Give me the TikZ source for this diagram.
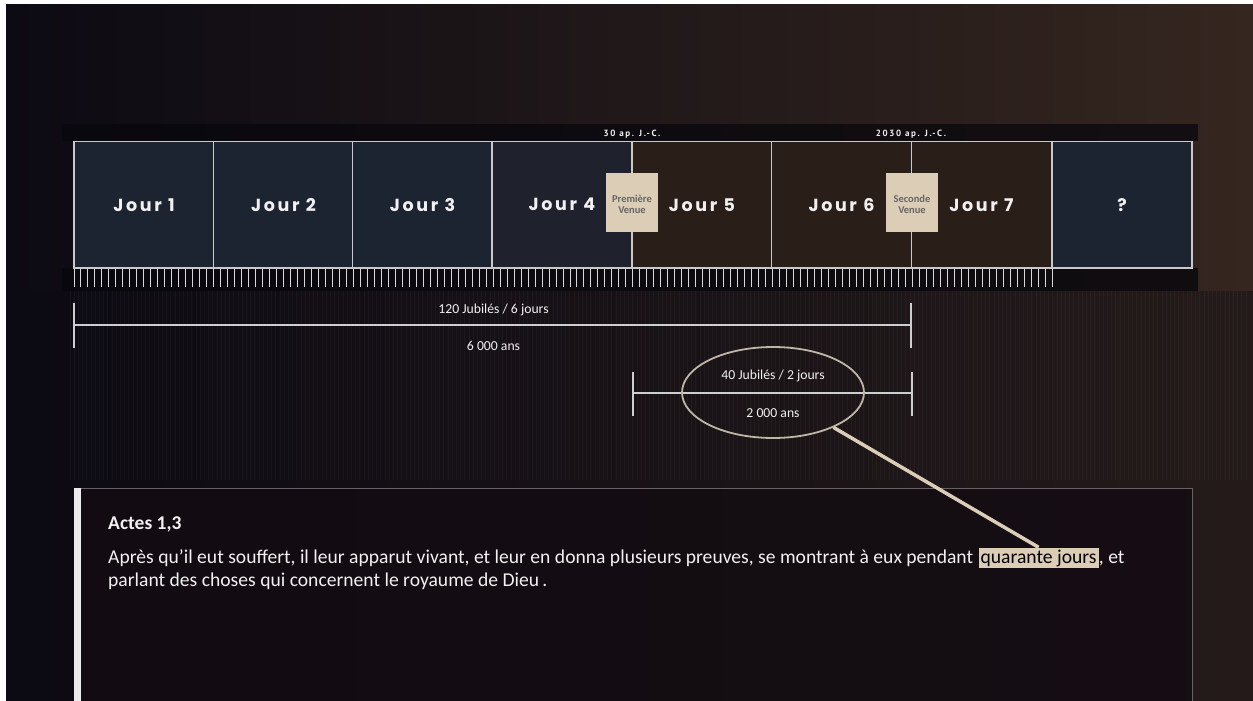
\documentclass[tikz,border=0pt]{standalone}
\usepackage{fontspec}
\setmainfont{Carlito}
\newfontfamily\dayfont{Poppins}[LetterSpace=15]
\newfontfamily\smallfont{PT Sans}[LetterSpace=18]
\usetikzlibrary{shapes.geometric}
\definecolor{bgL}{HTML}{0C0A13}
\definecolor{bgR}{HTML}{35261F}
\definecolor{blueday}{HTML}{1C2331}
\definecolor{brownday}{HTML}{2A1E19}
\definecolor{frame}{HTML}{C9C9CC}
\definecolor{beige}{HTML}{DCCDB6}
\definecolor{txt}{HTML}{F2F0F0}
\definecolor{panel}{HTML}{130C12}
\tikzset{
  daybox/.style={draw=frame, line width=1.6pt, minimum width=140pt, minimum height=126.5pt, inner sep=0pt,
     text=txt, font=\dayfont\bfseries\fontsize{17.5}{20}\selectfont},
  visitbox/.style={fill=beige, minimum width=52pt, minimum height=59pt, inner sep=1pt, align=center,
     text=black!60, font=\fontsize{10.5}{11}\selectfont\bfseries},
  hdr/.style={text=txt!85, font=\smallfont\bfseries\fontsize{9}{10}\selectfont, inner sep=0pt},
  span/.style={draw=frame!90, line width=2.6pt},
  spanlbl/.style={text=txt, font=\fontsize{13.7}{15}\selectfont, inner sep=0pt},
  body/.style={text=txt, font=\fontsize{19.6}{23}\selectfont, inner sep=0pt, anchor=base west},
}
\begin{document}
\begin{tikzpicture}[x=1pt,y=-1pt]
\useasboundingbox (0,0) rectangle (1253,701);
\fill[white] (0,0) rectangle (1253,701);
\shade[left color=bgL, right color=bgR] (6,5) rectangle (1253,701);
\fill[bgL, opacity=0.4] (6,291) rectangle (1253,701);
% faint vertical stripes
\foreach \i in {0,...,280} { \draw[white, opacity=0.035, line width=0.8pt] (70+4.2*\i,291) -- (70+4.2*\i,480); }
% header band
\fill[black!30!bgL, opacity=0.75] (62,124) rectangle (1198,141);
\node[hdr] (h1) at (632,134) {30 ap. J.-C.};
\node[hdr] (h2) at (911,134) {2030 ap. J.-C.};
% tick band
\fill[black!30!bgL, opacity=0.8] (62,268) rectangle (1198,291);
\foreach \i in {0,...,140} { \draw[frame!70, line width=1pt] (74+6.986*\i,269) -- (74+6.986*\i,287); }
% day boxes
\node[daybox, fill=blueday] (d1) at (144,204.75) {Jour 1};
\node[daybox, fill=blueday] (d2) at (283.5,204.75) {Jour 2};
\node[daybox, fill=blueday] (d3) at (422.5,204.75) {Jour 3};
\node[daybox, fill=blueday!80!brownday] (d4) at (562,204.75) {Jour 4};
\node[daybox, fill=brownday] (d5) at (702,204.75) {Jour 5};
\node[daybox, fill=brownday] (d6) at (841.5,204.75) {Jour 6};
\node[daybox, fill=brownday] (d7) at (981.5,204.75) {Jour 7};
\node[daybox, fill=blueday] (d8) at (1122,204.75) {?};
\node[visitbox] (v1) at (632,202.5) {\\Première\\Venue};
\node[visitbox] (v2) at (912,202.5) {\\Seconde\\Venue};
% span 1
\coordinate (s1a) at (74,325);
\coordinate (s1b) at (911,325);
\draw[span] (s1a) -- (s1b);
\draw[span] (74,303) -- (74,348);
\draw[span] (911,303) -- (911,348);
\node[spanlbl] (l1) at (493.5,310) {120 Jubilés / 6 jours};
\node[spanlbl] (l2) at (493.5,346) {6 000 ans};
% span 2
\coordinate (s2a) at (633,393);
\coordinate (s2b) at (912,393);
\draw[span] (s2a) -- (s2b);
\draw[span] (633,372) -- (633,416);
\draw[span] (912,372) -- (912,416);
\node[draw=beige!70!gray, line width=1.8pt, ellipse, minimum width=182pt, minimum height=91pt] (ell) at (773,392.5) {};
\node[spanlbl] (l3) at (773,376) {40 Jubilés / 2 jours};
\node[spanlbl] (l4) at (773,413) {2 000 ans};
% text panel
\fill[panel, opacity=0.85] (74,488) rectangle (1192,705);
\draw[white!35!panel, line width=1pt] (74,488) -- (1192,488) -- (1192,705);
\fill[white!85!gray] (74,488) rectangle (81,705);
\node[body, font=\bfseries\fontsize{19.5}{23}\selectfont] (title) at (108,529) {Actes 1,3};
\node[body] (p1) at (108,563) {Après qu’il eut souffert, il leur apparut vivant, et leur en donna plusieurs preuves, se montrant à eux pendant};
\node[body, fill=beige, text=black, inner sep=2pt, anchor=base west] (hl) at ([xshift=5pt]p1.base east) {quarante jours};
\node[body] (p1b) at (hl.base east) {, et};
\node[body] (p2) at (108,586.5) {parlant des choses qui concernent le royaume de Dieu\,.};
% connector
\draw[beige, line width=3.5pt] (ell.-30) -- (hl.north);
\end{tikzpicture}
\end{document}
